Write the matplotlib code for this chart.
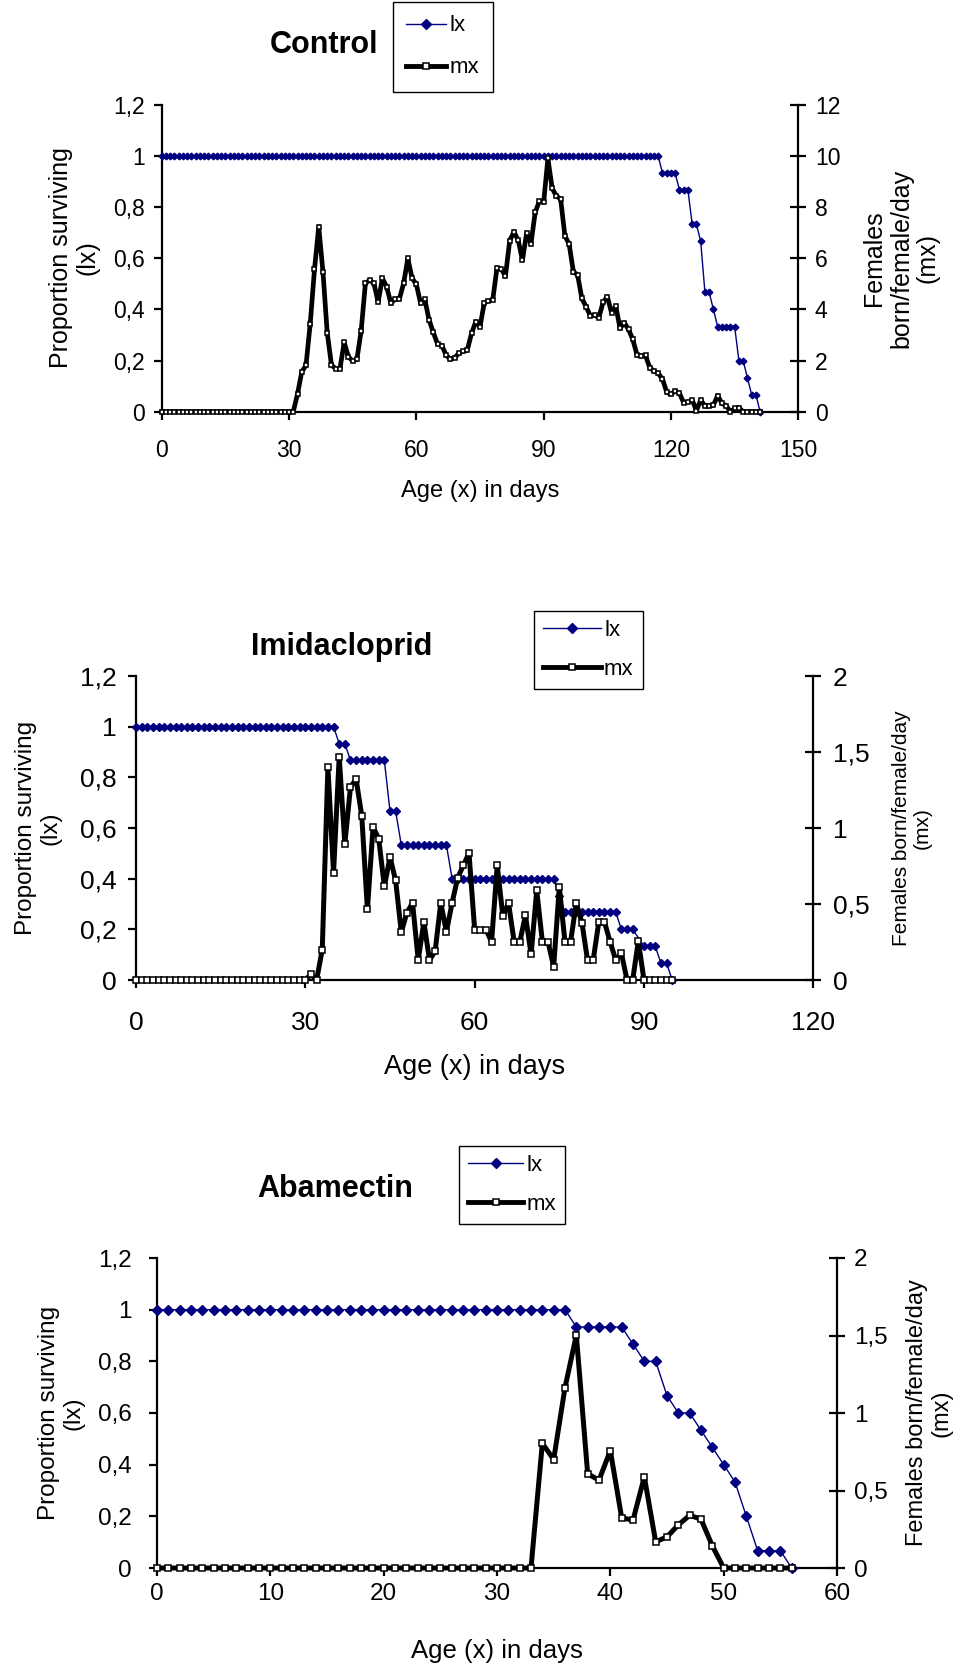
import numpy as np
import matplotlib
matplotlib.use("Agg")
import matplotlib.pyplot as plt
from matplotlib.lines import Line2D

plt.rcParams['font.family'] = ['Liberation Sans', 'DejaVu Sans']

W, H = 959, 1667
NAVY = '#000080'

# ---------------- Control ----------------
ctrl_lx = [
    1, 1, 1, 1, 1, 1, 1, 1, 1, 1, 1, 1, 1, 1, 1, 1, 1, 1, 1, 1,
    1, 1, 1, 1, 1, 1, 1, 1, 1, 1, 1, 1, 1, 1, 1, 1, 1, 1, 1, 1,
    1, 1, 1, 1, 1, 1, 1, 1, 1, 1, 1, 1, 1, 1, 1, 1, 1, 1, 1, 1,
    1, 1, 1, 1, 1, 1, 1, 1, 1, 1, 1, 1, 1, 1, 1, 1, 1, 1, 1, 1,
    1, 1, 1, 1, 1, 1, 1, 1, 1, 1, 1, 1, 1, 1, 1, 1, 1, 1, 1, 1,
    1, 1, 1, 1, 1, 1, 1, 1, 1, 1, 1, 1, 1, 1, 1, 1, 1, 1,
    0.933, 0.933, 0.933, 0.933, 0.867, 0.867, 0.867, 0.733, 0.733,
    0.667, 0.467, 0.467, 0.4, 0.333, 0.333, 0.333, 0.333, 0.333,
    0.2, 0.2, 0.133, 0.067, 0.067, 0,
]
ctrl_mx = [
    0, 0, 0, 0, 0, 0, 0, 0, 0, 0, 0, 0, 0, 0, 0, 0, 0, 0, 0, 0,
    0, 0, 0, 0, 0, 0, 0, 0, 0, 0, 0, 0,
    0.69, 1.56, 1.81, 3.45, 5.57, 7.24, 5.46, 3.09, 1.83, 1.68,
    1.68, 2.71, 2.15, 1.98, 2.05, 3.17, 5.02, 5.15, 5.02, 4.29,
    5.22, 4.89, 4.24, 4.41, 4.41, 5.02, 6.00, 5.22, 4.99, 4.24,
    4.39, 3.59, 3.10, 2.65, 2.59, 2.22, 2.05, 2.11, 2.28, 2.37,
    2.41, 3.06, 3.52, 3.32, 4.26, 4.34, 4.37, 5.63, 5.58, 5.31,
    6.69, 7.04, 6.71, 5.93, 7.00, 6.56, 7.80, 8.24, 8.19, 9.91,
    8.74, 8.44, 8.32, 6.88, 6.56, 5.48, 5.35, 4.43, 4.11, 3.75,
    3.78, 3.68, 4.28, 4.50, 3.87, 4.13, 3.26, 3.48, 3.22, 2.83,
    2.22, 2.18, 2.20, 1.72, 1.59, 1.50, 1.28, 0.76, 0.68, 0.81,
    0.72, 0.35, 0.38, 0.46, 0.04, 0.46, 0.22, 0.22, 0.26, 0.63,
    0.33, 0.23, 0, 0.13, 0.16, 0, 0, 0, 0, 0,
]

# ---------------- Imidacloprid (no lx record on day 89) ----------------
imid_lx = [
    1, 1, 1, 1, 1, 1, 1, 1, 1, 1, 1, 1, 1, 1, 1, 1, 1, 1, 1, 1,
    1, 1, 1, 1, 1, 1, 1, 1, 1, 1, 1, 1, 1, 1, 1, 1,
    0.933, 0.933, 0.867, 0.867, 0.867, 0.867, 0.867, 0.867, 0.867,
    0.667, 0.667, 0.533, 0.533, 0.533, 0.533, 0.533, 0.533, 0.533,
    0.533, 0.533, 0.4, 0.4, 0.4, 0.4, 0.4, 0.4, 0.4, 0.4, 0.4, 0.4,
    0.4, 0.4, 0.4, 0.4, 0.4, 0.4, 0.4, 0.4, 0.4, 0.333,
    0.267, 0.267, 0.267, 0.267, 0.267, 0.267, 0.267, 0.267, 0.267, 0.267,
    0.2, 0.2, 0.2, np.nan, 0.133, 0.133, 0.133, 0.067, 0.067, 0,
]
imid_mx = [
    0, 0, 0, 0, 0, 0, 0, 0, 0, 0, 0, 0, 0, 0, 0, 0, 0, 0, 0, 0,
    0, 0, 0, 0, 0, 0, 0, 0, 0, 0, 0,
    0.037, 0, 0.20, 1.40, 0.705, 1.47, 0.895, 1.27, 1.32, 1.08,
    0.465, 1.005, 0.93, 0.616, 0.808, 0.655, 0.315, 0.443, 0.507, 0.131,
    0.382, 0.131, 0.19, 0.507, 0.317, 0.507, 0.673, 0.754, 0.834, 0.332,
    0.332, 0.332, 0.251, 0.754, 0.419, 0.507, 0.251, 0.251, 0.426, 0.168,
    0.59, 0.251, 0.251, 0.087, 0.612, 0.251, 0.251, 0.507, 0.378, 0.131,
    0.131, 0.382, 0.382, 0.251, 0.131, 0.175, 0, 0, 0.256, 0,
    0, 0, 0, 0, 0,
]

# ---------------- Abamectin ----------------
abam_lx = [
    1, 1, 1, 1, 1, 1, 1, 1, 1, 1, 1, 1, 1, 1, 1, 1, 1, 1, 1, 1,
    1, 1, 1, 1, 1, 1, 1, 1, 1, 1, 1, 1, 1, 1, 1, 1, 1,
    0.933, 0.933, 0.933, 0.933, 0.933, 0.867, 0.8, 0.8, 0.667, 0.6,
    0.6, 0.533, 0.467, 0.4, 0.333, 0.2, 0.067, 0.067, 0.067, 0,
]
abam_mx = [
    0, 0, 0, 0, 0, 0, 0, 0, 0, 0, 0, 0, 0, 0, 0, 0, 0, 0, 0, 0,
    0, 0, 0, 0, 0, 0, 0, 0, 0, 0, 0, 0, 0, 0,
    0.804, 0.70, 1.164, 1.502, 0.608, 0.567, 0.757, 0.325, 0.308, 0.588,
    0.169, 0.201, 0.278, 0.340, 0.315, 0.143, 0, 0, 0, 0, 0, 0, 0,
]

lx_ticks = [0, 0.2, 0.4, 0.6, 0.8, 1.0, 1.2]


def comma(v):
    s = ('%g' % v)
    return s.replace('.', ',')


def fx(x):
    return x / W


def fy(y):
    return 1 - y / H


def panel(fig, box, lx, mx, xticks, mx_ticks, s):
    left, top, right, bottom = box
    ax = fig.add_axes([fx(left), fy(bottom), fx(right - left), (bottom - top) / H])
    ax2 = ax.twinx()

    lx = np.array(lx, dtype=float)
    mx = np.array(mx, dtype=float)
    days = np.arange(len(lx))
    ok = ~np.isnan(lx)
    ax.plot(days[ok], lx[ok], color=NAVY, lw=1, marker='D', ms=s['dms'],
            mfc=NAVY, mec=NAVY, clip_on=False, zorder=3)
    ax2.plot(np.arange(len(mx)), mx, color='black', lw=s['mlw'], marker='s',
             ms=s['sms'], mfc='white', mec='black', mew=1.1, clip_on=False, zorder=3)

    ax.set_xlim(xticks[0], xticks[-1])
    ax.set_ylim(0, 1.2)
    ax2.set_ylim(mx_ticks[0], mx_ticks[-1])
    ax.set_xticks(xticks)
    ax.set_xticklabels([str(t) for t in xticks])
    ax.set_yticks(lx_ticks)
    ax.set_yticklabels([comma(t) for t in lx_ticks])
    ax2.set_yticks(mx_ticks)
    ax2.set_yticklabels([comma(t) for t in mx_ticks])

    for a in (ax, ax2):
        for sp in a.spines.values():
            sp.set_linewidth(1.6)
            sp.set_color('black')
        a.spines['top'].set_visible(False)
    ax.spines['right'].set_visible(False)
    ax2.spines['left'].set_visible(False)
    ax2.spines['bottom'].set_visible(False)

    ax.tick_params(axis='x', direction='out', length=6, width=1.6,
                   labelsize=s['tick'], pad=s['xpad'])
    ax.tick_params(axis='y', direction='out', length=6, width=1.6,
                   labelsize=s['tick'], pad=s['lpad'])
    ax2.tick_params(axis='y', direction='inout', length=12, width=1.6,
                    labelsize=s['tick'], pad=s['rpad'])

    fig.text(fx(s['title'][0]), fy(s['title'][1]), s['name'], fontsize=22,
             fontweight='bold', ha='center', va='center')
    fig.text(fx(s['ylab'][0]), fy(s['ylab'][1]), 'Proportion surviving\n(lx)',
             fontsize=s['ylab_fs'], rotation=90, ha='center', va='center',
             multialignment='center', linespacing=1.15)
    fig.text(fx(s['rlab'][0]), fy(s['rlab'][1]), s['rtext'],
             fontsize=s['rlab_fs'], rotation=90, ha='center', va='center',
             multialignment='center', linespacing=1.15)
    fig.text(fx((left + right) / 2), fy(s['xlab_y']), 'Age (x) in days',
             fontsize=s['xlab_fs'], ha='center', va='center')

    handles = [
        Line2D([], [], color=NAVY, lw=1, marker='D', ms=5, mfc=NAVY, mec=NAVY),
        Line2D([], [], color='black', lw=3.5, marker='s', ms=4.5, mfc='white',
               mec='black', mew=1.1),
    ]
    leg = fig.legend(handles, ['lx', 'mx'], loc='upper left',
                     bbox_to_anchor=(fx(s['leg'][0]), fy(s['leg'][1])),
                     borderaxespad=0, frameon=True, fancybox=False,
                     edgecolor='black', framealpha=1, fontsize=16,
                     handlelength=s['hl'], handletextpad=0.15,
                     labelspacing=s['lsp'], borderpad=s['bpad'])
    leg.get_frame().set_linewidth(1.0)
    return ax, ax2


def main():
    fig = plt.figure(figsize=(W / 100, H / 100), dpi=100)

    panel(fig, (161.7, 105, 798.3, 411.7), ctrl_lx, ctrl_mx,
          [0, 30, 60, 90, 120, 150], [0, 2, 4, 6, 8, 10, 12],
          dict(name='Control', title=(324, 45), leg=(393, 2), hl=1.8,
               lsp=0.95, bpad=0.6,
               ylab=(74, 258), ylab_fs=18, rlab=(901, 258), rlab_fs=18,
               rtext='Females\nborn/female/day\n(mx)',
               xlab_y=491, xlab_fs=17, tick=16.5, xpad=14, lpad=6, rpad=6,
               dms=3.4, sms=3.5, mlw=3.4))

    panel(fig, (136, 676, 813.3, 980), imid_lx, imid_mx,
          [0, 30, 60, 90, 120], [0, 0.5, 1, 1.5, 2],
          dict(name='Imidacloprid', title=(342, 647), leg=(534, 611), hl=2.6,
               lsp=0.8, bpad=0.4,
               ylab=(38, 828), ylab_fs=17.5, rlab=(912, 828), rlab_fs=15,
               rtext='Females born/female/day\n(mx)',
               xlab_y=1067, xlab_fs=19.5, tick=19, xpad=16, lpad=8, rpad=8,
               dms=4.5, sms=4.0, mlw=3.6))

    panel(fig, (157, 1258, 837, 1568), abam_lx, abam_mx,
          [0, 10, 20, 30, 40, 50, 60], [0, 0.5, 1, 1.5, 2],
          dict(name='Abamectin', title=(335, 1189), leg=(459, 1146), hl=2.5,
               lsp=0.8, bpad=0.4,
               ylab=(61, 1413), ylab_fs=17.5, rlab=(929, 1413), rlab_fs=17,
               rtext='Females born/female/day\n(mx)',
               xlab_y=1651, xlab_fs=18.5, tick=17.5, xpad=5, lpad=12, rpad=6,
               dms=5, sms=4.5, mlw=3.6))

    fig.savefig('out.png', dpi=100)


if __name__ == "__main__":
    main()
